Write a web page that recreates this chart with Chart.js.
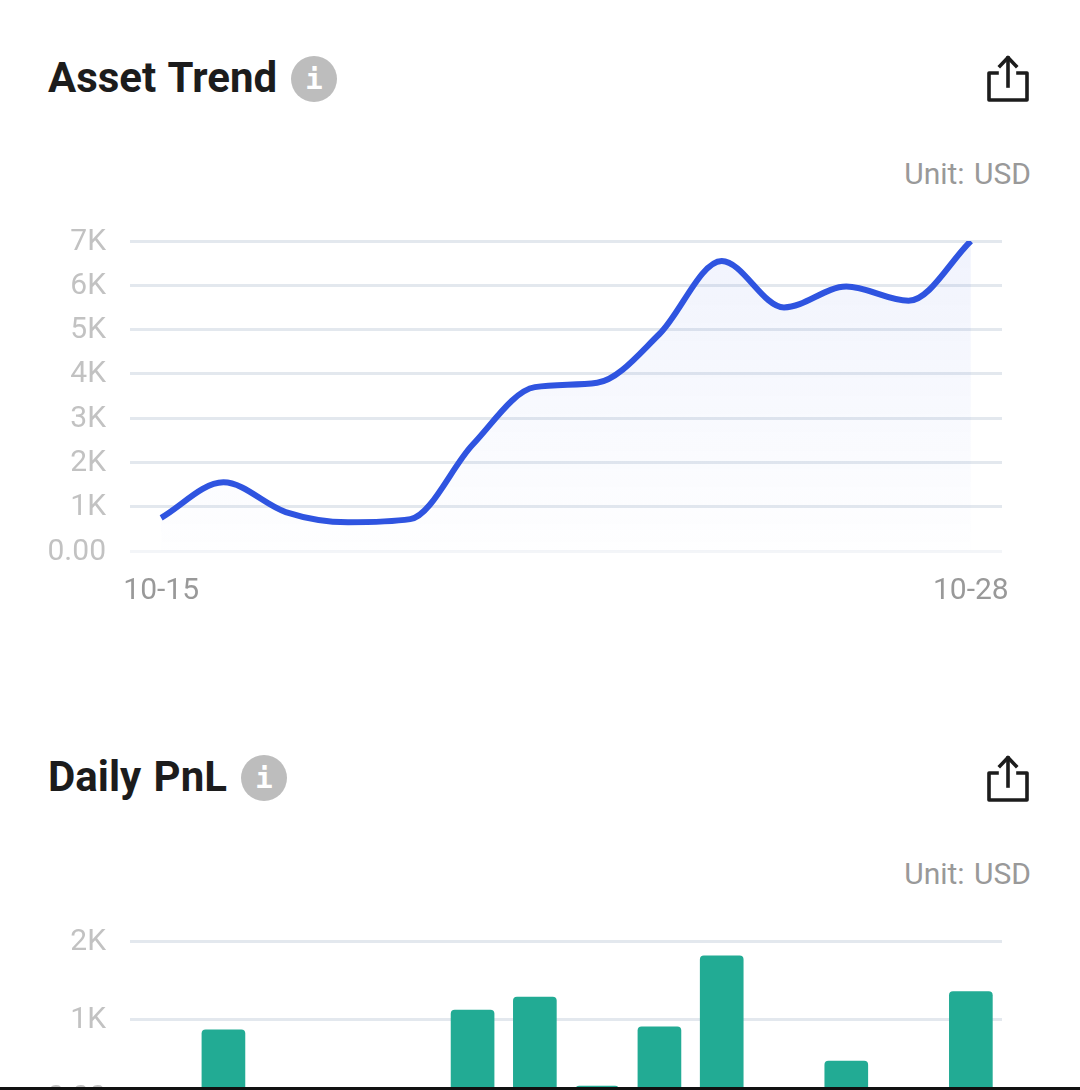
<!DOCTYPE html>
<html>
<head>
<meta charset="utf-8">
<script src="https://cdn.jsdelivr.net/npm/chart.js@4"></script>
<style>
  html, body { margin: 0; padding: 0; background: #fff; }
  body { position: relative; width: 1080px; height: 1090px; overflow: hidden; font-family: Roboto, sans-serif; }
  .title { position: absolute; left: 48px; font-size: 42px; font-weight: 700; color: #1c1c1c; line-height: 46px; white-space: nowrap; word-spacing: 2px; }
  .info { position: absolute; width: 46px; height: 46px; border-radius: 50%; background: #bdbdbd; color: #fff; font: 700 29px/46px "DejaVu Sans Mono", monospace; text-align: center; }
  .share { position: absolute; left: 984px; width: 48px; height: 52px; }
  .unit { position: absolute; right: 49px; font-size: 30px; color: #999; line-height: 32px; word-spacing: 2px; }
  .box { position: absolute; left: 0; width: 1080px; }
  .foot { position: absolute; left: 0; top: 1087px; width: 1080px; height: 3px; background: #111; }
</style>
</head>
<body>
  <div class="title" style="top:55px">Asset Trend</div>
  <div class="info" style="left:291px;top:56px">i</div>
  <svg class="share" style="top:54px" viewBox="0 0 48 52" fill="none" stroke="#1c1c1c" stroke-width="3.6" stroke-linejoin="round" stroke-linecap="square">
    <path d="M13 19H5V46H43V19H34"/><path d="M24 32V4"/><path d="M16 12L24 3.500L32 12"/>
  </svg>
  <div class="unit" style="top:158px">Unit: USD</div>
  <div class="box" style="top:199px;height:402px"><canvas id="trendChart"></canvas></div>

  <div class="title" style="top:754px">Daily PnL</div>
  <div class="info" style="left:241px;top:755px">i</div>
  <svg class="share" style="top:754px" viewBox="0 0 48 52" fill="none" stroke="#1c1c1c" stroke-width="3.6" stroke-linejoin="round" stroke-linecap="square">
    <path d="M13 19H5V46H43V19H34"/><path d="M24 32V4"/><path d="M16 12L24 3.500L32 12"/>
  </svg>
  <div class="unit" style="top:858px">Unit: USD</div>
  <div class="box" style="top:899px;height:248px"><canvas id="pnlChart"></canvas></div>
  <div class="foot"></div>

<script>
const days = ['10-15', '10-16', '10-17', '10-18', '10-19', '10-20', '10-21', '10-22', '10-23', '10-24', '10-25', '10-26', '10-27', '10-28'];
const assetValues = [750, 1550, 880, 650, 720, 2400, 3700, 3800, 4900, 6550, 5500, 5970, 5650, 7000];
const pnlValues = [0, 860, 0, 0, 0, 1115, 1280, 140, 900, 1810, 0, 460, 0, 1350];
const assetTicks = ['0.00', '1K', '2K', '3K', '4K', '5K', '6K', '7K'];
const pnlTicks = ['0.00', '1K', '2K'];

Chart.defaults.font.family = 'Roboto';
Chart.defaults.animation = false;

function baseOptions(max, tickNames) {
  return {
    responsive: true,
    maintainAspectRatio: false,
    layout: { padding: { top: 0, right: 78, left: 0, bottom: 0 } },
    plugins: { legend: { display: false }, tooltip: { enabled: false } },
    scales: {
      x: {
        offset: true,
        grid: { display: false },
        border: { display: false },
        afterFit: (s) => { s.height = 50; },
        ticks: {
          autoSkip: false,
          maxRotation: 0,
          padding: 14,
          color: '#999',
          font: { size: 30 },
          callback: (v, i) => (i === 0 || i === days.length - 1 ? days[i] : ''),
        },
      },
      y: {
        min: 0,
        max,
        afterFit: (s) => { s.width = 130; },
        border: { display: false },
        grid: {
          lineWidth: 3,
          drawTicks: false,
          color: (c) => (c.tick && c.tick.value === 0 ? '#f3f5f8' : '#e3e8ee'),
        },
        ticks: {
          stepSize: 1000,
          padding: 24,
          labelOffset: 1,
          color: '#c2c2c2',
          font: { size: 30 },
          callback: (v) => tickNames[v / 1000],
        },
      },
    },
  };
}

new Chart(document.getElementById('trendChart'), {
  type: 'line',
  data: {
    labels: days,
    datasets: [{
      data: assetValues,
      borderColor: '#2f54e0',
      borderWidth: 6,
      cubicInterpolationMode: 'monotone',
      pointRadius: 0,
      borderCapStyle: 'butt',
      fill: 'origin',
      backgroundColor: (ctx) => {
        const area = ctx.chart.chartArea;
        if (!area) return 'rgba(47,84,224,0.07)';
        const g = ctx.chart.ctx.createLinearGradient(0, area.top, 0, area.bottom);
        g.addColorStop(0, 'rgba(47,84,224,0.07)');
        g.addColorStop(1, 'rgba(47,84,224,0.005)');
        return g;
      },
    }],
  },
  options: baseOptions(7000, assetTicks),
});

new Chart(document.getElementById('pnlChart'), {
  type: 'bar',
  data: {
    labels: days,
    datasets: [{
      data: pnlValues,
      backgroundColor: '#22ab94',
      borderRadius: 4,
      barThickness: 43,
    }],
  },
  options: baseOptions(2000, pnlTicks),
});
</script>
</body>
</html>
